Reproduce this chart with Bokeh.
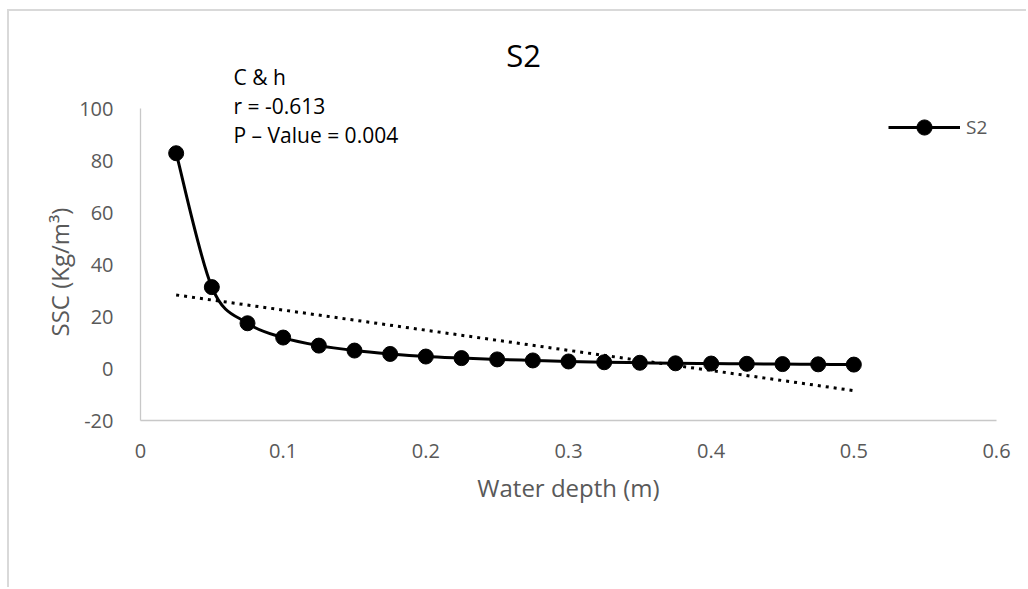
import numpy as np
from bokeh.plotting import figure
from bokeh.models import Range1d, FixedTicker, Label, Legend, LegendItem, Title
from bokeh.embed import file_html
from bokeh.resources import INLINE

# ---------------- data ----------------
depth = [0.025, 0.05, 0.075, 0.1, 0.125, 0.15, 0.175, 0.2, 0.225, 0.25,
         0.275, 0.3, 0.325, 0.35, 0.375, 0.4, 0.425, 0.45, 0.475, 0.5]
ssc = [82.8, 31.3, 17.4, 11.9, 8.8, 6.9, 5.6, 4.6, 4.0, 3.5,
       3.1, 2.7, 2.4, 2.2, 2.0, 1.9, 1.8, 1.7, 1.6, 1.5]
x_ticks = [0, 0.1, 0.2, 0.3, 0.4, 0.5, 0.6]
x_tick_labels = ["0", "0.1", "0.2", "0.3", "0.4", "0.5", "0.6"]
y_ticks = [-20, 0, 20, 40, 60, 80, 100]
y_tick_labels = ["-20", "0", "20", "40", "60", "80", "100"]
title_text = "S2"
series_name = "S2"
x_title = "Water depth (m)"
y_title = "SSC (Kg/m\u00b3)"
annotation_lines = ["C & h", "r = -0.613", "P \u2013 Value = 0.004"]

# ---------------- layout (page pixels) ----------------
PAGE_W, PAGE_H = 1028, 589
OX, OY = 9, 11                      # canvas origin on the page (margin + border)
W, H = PAGE_W - OX, PAGE_H - OY
PL, PR, PT, PB = 140, 996, 108, 420  # axes box on the page
XMIN, XMAX = x_ticks[0], x_ticks[-1]
YMIN, YMAX = y_ticks[0], y_ticks[-1]
FONT = "Open Sans"
GRAY = "#595959"

# frame spans from canvas top down to the x axis
FL, FR, FT, FB = PL - OX, PR - OX, 0, PB - OY
ypp = (YMAX - YMIN) / (PB - PT)       # data units per pixel (y)
Y_END = YMIN + (FB - FT) * ypp


def X(px):
    return XMIN + (px - PL) / (PR - PL) * (XMAX - XMIN)


def Y(py):
    return YMIN + (PB - py) * ypp


p = figure(width=W, height=H, x_range=Range1d(XMIN, XMAX), y_range=Range1d(YMIN, Y_END),
           output_backend="svg", toolbar_location=None,
           min_border_left=FL, min_border_right=W - FR,
           min_border_top=FT, min_border_bottom=H - FB)
p.margin = (OY - 2, 0, 0, OX - 2)
p.styles = {"border-top": "2px solid #d9d9d9", "border-left": "2px solid #d9d9d9"}
p.outline_line_color = None
p.xgrid.visible = False
p.ygrid.visible = False
p.background_fill_color = "white"
p.border_fill_color = "white"

for ax, ticks, labels in ((p.xaxis[0], x_ticks, x_tick_labels), (p.yaxis[0], y_ticks, y_tick_labels)):
    ax.ticker = FixedTicker(ticks=ticks)
    ax.major_label_overrides = {t: l for t, l in zip(ticks, labels)}
    ax.major_tick_line_color = None
    ax.minor_tick_line_color = None
    ax.axis_line_color = "#c8c8c8"
    ax.axis_line_width = 1.3
    ax.major_label_text_font = FONT
    ax.major_label_text_font_size = "20px"
    ax.major_label_text_color = GRAY

p.yaxis[0].bounds = (YMIN, YMAX)
p.xaxis[0].axis_label = x_title
p.xaxis[0].axis_label_text_font = FONT
p.xaxis[0].axis_label_text_font_size = "24px"
p.xaxis[0].axis_label_text_font_style = "normal"
p.xaxis[0].axis_label_text_color = GRAY
p.xaxis[0].major_label_standoff = 17
p.xaxis[0].axis_label_standoff = 10
p.yaxis[0].major_label_standoff = 21

# y axis title, placed along the axes box
p.add_layout(Title(text=y_title, align="left", offset=(PB - 336), vertical_align="bottom",
                   standoff=2, text_font=FONT, text_font_size="24px",
                   text_font_style="normal", text_color=GRAY), "left")

# smoothed series line (Catmull-Rom bezier segments through the points)
xs = np.array(depth)
ys = np.array(ssc)
n = len(xs)
xp = np.concatenate([[xs[0]], xs, [xs[-1]]])
yp = np.concatenate([[ys[0]], ys, [ys[-1]]])
a_x, b_x, c_x, d_x = xp[0:n - 1], xp[1:n], xp[2:n + 1], xp[3:n + 2]
a_y, b_y, c_y, d_y = yp[0:n - 1], yp[1:n], yp[2:n + 1], yp[3:n + 2]
p.bezier(x0=b_x, y0=b_y, x1=c_x, y1=c_y,
         cx0=b_x + (c_x - a_x) / 6, cy0=b_y + (c_y - a_y) / 6,
         cx1=c_x - (d_x - b_x) / 6, cy1=c_y - (d_y - b_y) / 6,
         line_color="black", line_width=3)

# linear trendline (least-squares fit of the series)
slope, icpt = np.polyfit(xs, ys, 1)
tx = np.array([xs[0], xs[-1]])
p.line(tx, slope * tx + icpt, line_color="black", line_width=3, line_dash="3 5")

# markers
sc = p.scatter(depth, ssc, size=15, marker="circle", fill_color="black", line_color="black")

# legend (line sample comes from a hidden copy of the series)
legend_line = p.line(depth, ssc, line_color="black", line_width=3, visible=False)
GH = 38
legend = Legend(items=[LegendItem(label=series_name, renderers=[legend_line, sc])],
                location=(888 - OX - FL, FB - (127 - OY + GH / 2)),
                border_line_color=None, background_fill_alpha=0,
                inactive_fill_alpha=0,
                glyph_width=72, glyph_height=GH, label_standoff=6, padding=0, margin=0,
                label_text_font=FONT, label_text_font_size="19px", label_text_color=GRAY)
p.add_layout(legend)

# chart title
p.add_layout(Label(x=X(523), y=Y(54), text=title_text, text_align="center", text_baseline="middle",
                   text_font=FONT, text_font_size="31px", text_color="black"))

# annotation text
for i, t in enumerate(annotation_lines):
    p.add_layout(Label(x=X(233), y=Y(76 + 29 * i), text=t, text_align="left", text_baseline="middle",
                       text_font=FONT, text_font_size="21px", text_color="black"))

open("out.html", "w").write(file_html(p, INLINE))
